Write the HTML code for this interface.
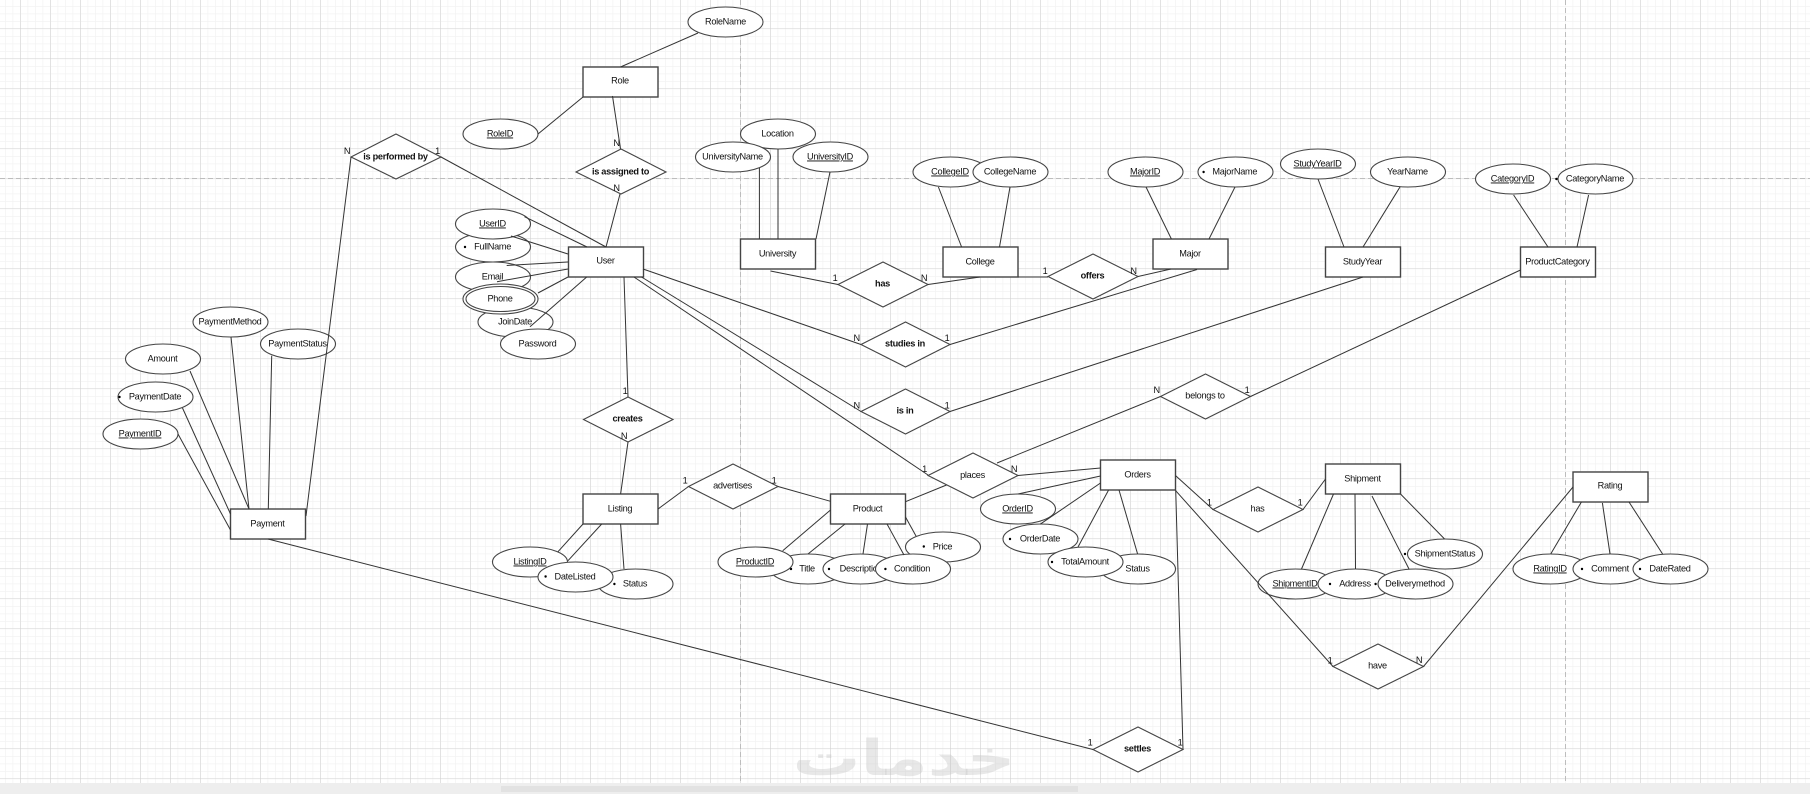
<!DOCTYPE html>
<html><head><meta charset="utf-8"><style>
html,body{margin:0;padding:0;background:#fff;width:1810px;height:794px;overflow:hidden}
svg{display:block}
text{font-family:"Liberation Sans",sans-serif;font-size:9.2px;letter-spacing:-.3px;fill:#111;text-anchor:middle}
.b{font-weight:bold}
.u{text-decoration:underline}
.e{fill:#fff;stroke:#444;stroke-width:1.1}
.r{fill:#fff;stroke:#444;stroke-width:1.4}
.d{fill:#fff;stroke:#444;stroke-width:1.1}
.l line{stroke:#333;stroke-width:1}
</style></head><body>
<svg width="1810" height="794" viewBox="0 0 1810 794" xmlns="http://www.w3.org/2000/svg">
<defs>
<pattern id="minor" x="20" y="13.5" width="7.5" height="7.5" patternUnits="userSpaceOnUse"><path d="M0 0V7.5M0 0H7.5" stroke="#f3f3f3" stroke-width="1.5" fill="none"/></pattern>
<pattern id="major" x="20.5" y="28.5" width="30" height="30" patternUnits="userSpaceOnUse"><path d="M0 0V30M0 0H30" stroke="#d2d2d2" stroke-width="1" fill="none"/></pattern>
</defs>
<rect width="1810" height="794" fill="#fff"/>
<rect width="1810" height="794" fill="url(#minor)"/>
<rect width="1810" height="794" fill="url(#major)"/>
<g stroke="#bdbdbd" stroke-width="1" stroke-dasharray="5 3" fill="none">
<line x1="0" y1="178.5" x2="1810" y2="178.5"/>
<line x1="740.5" y1="0" x2="740.5" y2="783"/>
<line x1="1565.5" y1="0" x2="1565.5" y2="783"/>
</g>
<text transform="translate(904,775) scale(1.09,.8)" x="0" y="0" style="font-family:'DejaVu Sans',sans-serif;font-size:62px;font-weight:bold;letter-spacing:0;fill:rgba(190,190,190,.35)">خدمات</text>

<!-- boxes -->
<g class="r">
<rect class="r" x="583" y="67" width="75" height="30"/>
<rect class="r" x="568.5" y="247" width="75" height="30"/>
<rect class="r" x="230.5" y="509" width="75" height="30"/>
<rect class="r" x="583" y="494" width="75" height="30"/>
<rect class="r" x="830.5" y="494" width="75" height="30"/>
<rect class="r" x="1100.5" y="460" width="75" height="30"/>
<rect class="r" x="1325.5" y="464" width="75" height="30"/>
<rect class="r" x="1573" y="472" width="75" height="30"/>
<rect class="r" x="740.5" y="239" width="75" height="30"/>
<rect class="r" x="943" y="247" width="75" height="30"/>
<rect class="r" x="1153" y="239" width="75" height="30"/>
<rect class="r" x="1325.5" y="247" width="75" height="30"/>
<rect class="r" x="1520.5" y="247" width="75" height="30"/>
</g>
<!-- diamonds -->
<polygon class="d" points="351,157 396,134 441,157 396,179"/>
<polygon class="d" points="576,172 621,149 666,172 621,194"/>
<polygon class="d" points="583.5,419.5 628,397 673,419.5 628,442"/>
<polygon class="d" points="688.5,486.5 733,464 778,486.5 733,509"/>
<polygon class="d" points="928,475.5 973,453 1018,475.5 973,498"/>
<polygon class="d" points="1093,749.5 1138,727 1183,749.5 1138,772"/>
<polygon class="d" points="1213,509.5 1258,487 1303,509.5 1258,532"/>
<polygon class="d" points="1333,666.5 1378,644 1423.5,666.5 1378,689"/>
<polygon class="d" points="838,284.5 883,262 928,284.5 883,307"/>
<polygon class="d" points="1048,276.5 1093,254 1138,276.5 1093,299"/>
<polygon class="d" points="861,344.5 905.5,322 950,344.5 905.5,367"/>
<polygon class="d" points="861,411.5 905.5,389 950,411.5 905.5,434"/>
<polygon class="d" points="1160.5,396.5 1205.5,374 1250.5,396.5 1205.5,419"/>

<!-- ellipses with text -->
<ellipse class="e" cx="725.5" cy="22" rx="37.5" ry="15"/><text x="725.5" y="24.5">RoleName</text>
<ellipse class="e" cx="500.5" cy="134" rx="37.5" ry="15"/><text class="u" x="500" y="136.5">RoleID</text>

<ellipse class="e" cx="493" cy="247" rx="37.5" ry="15"/><circle cx="465" cy="247" r="1.2"/><text x="492.6" y="249.5">FullName</text>
<ellipse class="e" cx="493" cy="224" rx="37.5" ry="15"/><text class="u" x="492.5" y="226.5">UserID</text>
<ellipse class="e" cx="493" cy="277" rx="37.5" ry="15"/><text x="492.5" y="279.5">Email</text>
<ellipse class="e" cx="515.5" cy="322" rx="37.5" ry="15"/><text x="515" y="324.5">JoinDate</text>
<ellipse class="e" cx="500.5" cy="299" rx="37.5" ry="15"/><ellipse class="e" cx="500.5" cy="299" rx="34.5" ry="12.5"/><text x="500" y="301.5">Phone</text>
<ellipse class="e" cx="538" cy="344" rx="37.5" ry="15"/><text x="537.5" y="346.5">Password</text>

<ellipse class="e" cx="230.5" cy="322" rx="37.5" ry="15"/><text x="230" y="324.5">PaymentMethod</text>
<ellipse class="e" cx="298" cy="344" rx="37.5" ry="15"/><text x="297.5" y="346.5">PaymentStatus</text>
<ellipse class="e" cx="163" cy="359" rx="37.5" ry="15"/><text x="162.5" y="361.5">Amount</text>
<ellipse class="e" cx="155.5" cy="397" rx="37.5" ry="15"/><circle cx="119.5" cy="397" r="1.2"/><text x="155" y="399.5">PaymentDate</text>
<ellipse class="e" cx="140.5" cy="434" rx="37.5" ry="15"/><text class="u" x="140" y="436.5">PaymentID</text>

<ellipse class="e" cx="635.5" cy="584" rx="37.5" ry="15"/><circle cx="614.4" cy="584" r="1.2"/><text x="635" y="586.5">Status</text>
<ellipse class="e" cx="530" cy="562" rx="37.5" ry="15"/><text class="u" x="530" y="564.5">ListingID</text>
<ellipse class="e" cx="575.5" cy="577" rx="37.5" ry="15"/><circle cx="545.6" cy="576.5" r="1.2"/><text x="575" y="579.5">DateListed</text>

<ellipse class="e" cx="808" cy="569" rx="37.5" ry="15"/><circle cx="791" cy="569" r="1.2"/><text x="807" y="571.5">Title</text>
<ellipse class="e" cx="755.5" cy="562" rx="37.5" ry="15"/><text class="u" x="755" y="564.5">ProductID</text>
<ellipse class="e" cx="943" cy="547" rx="37.5" ry="15"/><circle cx="923.8" cy="546.5" r="1.2"/><text x="942.5" y="549.5">Price</text>
<ellipse class="e" cx="860.5" cy="569" rx="37.5" ry="15"/><circle cx="829" cy="569" r="1.2"/><text x="861" y="571.5">Description</text>
<ellipse class="e" cx="913" cy="569" rx="37.5" ry="15"/><circle cx="885.4" cy="569" r="1.2"/><text x="912" y="571.5">Condition</text>

<ellipse class="e" cx="1018" cy="509" rx="37.5" ry="15"/><text class="u" x="1017.5" y="511.5">OrderID</text>
<ellipse class="e" cx="1040.5" cy="539" rx="37.5" ry="15"/><circle cx="1010" cy="539" r="1.2"/><text x="1040" y="541.5">OrderDate</text>
<ellipse class="e" cx="1138" cy="569" rx="37.5" ry="15"/><text x="1137.5" y="571.5">Status</text>
<ellipse class="e" cx="1085.5" cy="562" rx="37.5" ry="15"/><circle cx="1052" cy="562" r="1.2"/><text x="1085" y="564.5">TotalAmount</text>

<ellipse class="e" cx="1445" cy="554" rx="37.5" ry="15"/><circle cx="1405" cy="554" r="1.2"/><text x="1445" y="556.5">ShipmentStatus</text>
<ellipse class="e" cx="1295.5" cy="584" rx="37.5" ry="15"/><text class="u" x="1295" y="586.5">ShipmentID</text>
<ellipse class="e" cx="1355.5" cy="584" rx="37.5" ry="15"/><circle cx="1330" cy="584" r="1.2"/><text x="1355" y="586.5">Address</text>
<ellipse class="e" cx="1415.5" cy="584" rx="37.5" ry="15"/><circle cx="1375.6" cy="584" r="1.2"/><text x="1415" y="586.5">Deliverymethod</text>

<ellipse class="e" cx="1550.5" cy="569" rx="37.5" ry="15"/><text class="u" x="1550" y="571.5">RatingID</text>
<ellipse class="e" cx="1610.5" cy="569" rx="37.5" ry="15"/><circle cx="1582" cy="569" r="1.2"/><text x="1610" y="571.5">Comment</text>
<ellipse class="e" cx="1670.5" cy="569" rx="37.5" ry="15"/><circle cx="1640" cy="569" r="1.2"/><text x="1670" y="571.5">DateRated</text>

<ellipse class="e" cx="778" cy="134" rx="37.5" ry="15"/><text x="777.5" y="136.5">Location</text>
<ellipse class="e" cx="733" cy="157" rx="37.5" ry="15"/><text x="732.5" y="159.5">UniversityName</text>
<ellipse class="e" cx="830.5" cy="157" rx="37.5" ry="15"/><text class="u" x="830" y="159.5">UniversityID</text>
<ellipse class="e" cx="950.5" cy="172" rx="37.5" ry="15"/><text class="u" x="950" y="174.5">CollegeID</text>
<ellipse class="e" cx="1010.5" cy="172" rx="37.5" ry="15"/><text x="1010" y="174.5">CollegeName</text>
<ellipse class="e" cx="1145.5" cy="172" rx="37.5" ry="15"/><text class="u" x="1145" y="174.5">MajorID</text>
<ellipse class="e" cx="1235.5" cy="172" rx="37.5" ry="15"/><circle cx="1203.6" cy="172" r="1.2"/><text x="1234.8" y="174.5">MajorName</text>
<ellipse class="e" cx="1318" cy="164" rx="37.5" ry="15"/><text class="u" x="1317.5" y="166.5">StudyYearID</text>
<ellipse class="e" cx="1408" cy="172" rx="37.5" ry="15"/><text x="1407.5" y="174.5">YearName</text>
<ellipse class="e" cx="1513" cy="179" rx="37.5" ry="15"/><text class="u" x="1512.5" y="181.5">CategoryID</text>
<ellipse class="e" cx="1595.5" cy="179" rx="37.5" ry="15"/><circle cx="1556.4" cy="179" r="1.2"/><text x="1595" y="181.5">CategoryName</text>

<!-- connectors -->
<g class="l">
<line x1="620.5" y1="67" x2="698" y2="33"/>
<line x1="538" y1="134" x2="583" y2="97"/>
<line x1="612.5" y1="96" x2="620.5" y2="149"/>
<line x1="620" y1="194" x2="606" y2="247"/>
<line x1="441" y1="157" x2="606" y2="247"/>
<line x1="351" y1="157" x2="306" y2="516"/>
<line x1="524.5" y1="216.7" x2="587" y2="247"/>
<line x1="511" y1="236" x2="568" y2="254"/>
<line x1="506.7" y1="265.5" x2="568" y2="262"/>
<line x1="497" y1="281.7" x2="568" y2="269"/>
<line x1="538" y1="293" x2="568" y2="277"/>
<line x1="530" y1="326.7" x2="586.7" y2="277"/>
<line x1="624" y1="277" x2="628" y2="397"/>
<line x1="628" y1="442" x2="620.6" y2="494"/>
<line x1="583" y1="524" x2="558" y2="551.7"/>
<line x1="601.7" y1="524" x2="568" y2="560.7"/>
<line x1="620.6" y1="524" x2="624" y2="569"/>
<line x1="658" y1="509" x2="688.5" y2="486.5"/>
<line x1="778" y1="486.5" x2="830.5" y2="501.3"/>
<line x1="905.5" y1="501.7" x2="946.5" y2="485"/>
<line x1="830.5" y1="510" x2="782.7" y2="550.7"/>
<line x1="845" y1="524" x2="808" y2="554"/>
<line x1="867.5" y1="524" x2="863" y2="554"/>
<line x1="887" y1="524" x2="904" y2="555"/>
<line x1="905.5" y1="517" x2="916" y2="536"/>
<line x1="643" y1="269" x2="861" y2="344.5"/>
<line x1="641.5" y1="277" x2="861" y2="411.5"/>
<line x1="634" y1="277" x2="928" y2="475"/>
<line x1="950" y1="411.5" x2="1363" y2="277"/>
<line x1="950" y1="344.5" x2="1197" y2="269.5"/>
<line x1="1250.5" y1="396.5" x2="1520.5" y2="270"/>
<line x1="997" y1="463" x2="1160.5" y2="396.5"/>
<line x1="1018" y1="475.5" x2="1100.5" y2="468"/>
<line x1="1100.5" y1="476" x2="1018" y2="494"/>
<line x1="1100.5" y1="483" x2="1040" y2="524.3"/>
<line x1="1108.6" y1="490" x2="1078" y2="547"/>
<line x1="1119" y1="490" x2="1137.6" y2="554"/>
<line x1="1175.7" y1="475.7" x2="1213" y2="509.5"/>
<line x1="1303" y1="509.5" x2="1325.5" y2="479"/>
<line x1="1175.7" y1="490.7" x2="1333" y2="666.5"/>
<line x1="1423.5" y1="666.5" x2="1573" y2="487"/>
<line x1="1175.7" y1="490" x2="1183" y2="749.3"/>
<line x1="268" y1="539" x2="1093" y2="749.5"/>
<line x1="1333.5" y1="494" x2="1301.5" y2="569"/>
<line x1="1355" y1="494" x2="1355.5" y2="569"/>
<line x1="1372" y1="496" x2="1409" y2="569"/>
<line x1="1400.5" y1="494" x2="1444.6" y2="539"/>
<line x1="1581.4" y1="502" x2="1550.7" y2="554"/>
<line x1="1602.4" y1="503" x2="1610" y2="554"/>
<line x1="1629" y1="502" x2="1662.6" y2="554"/>
<line x1="178" y1="434" x2="230.5" y2="530"/>
<line x1="182.5" y1="408" x2="230.5" y2="514"/>
<line x1="190" y1="371" x2="249" y2="509"/>
<line x1="231" y1="337" x2="249" y2="509"/>
<line x1="271.7" y1="355.7" x2="268.3" y2="509"/>
<line x1="759.4" y1="168" x2="759.4" y2="239"/>
<line x1="778" y1="149" x2="778" y2="239"/>
<line x1="830" y1="172" x2="816" y2="239"/>
<line x1="770.5" y1="271" x2="838" y2="284.5"/>
<line x1="928" y1="284.5" x2="980" y2="277"/>
<line x1="1018" y1="277" x2="1048" y2="277"/>
<line x1="1138" y1="276.5" x2="1171" y2="269"/>
<line x1="938.4" y1="187" x2="961.6" y2="247"/>
<line x1="1010" y1="187" x2="999.5" y2="247"/>
<line x1="1146" y1="187" x2="1171.4" y2="239"/>
<line x1="1235" y1="187" x2="1209" y2="239"/>
<line x1="1318" y1="179" x2="1344" y2="247"/>
<line x1="1400" y1="187" x2="1363" y2="247"/>
<line x1="1513.6" y1="195" x2="1548" y2="247"/>
<line x1="1588.6" y1="195" x2="1577" y2="247"/>
</g>

<!-- box labels -->
<text x="620" y="83.5">Role</text>
<text x="605.5" y="263.5">User</text>
<text x="267.5" y="526.5">Payment</text>
<text x="620" y="511.5">Listing</text>
<text x="867.5" y="511.5">Product</text>
<text x="1137.5" y="477.5">Orders</text>
<text x="1362.5" y="481.5">Shipment</text>
<text x="1610" y="488.5">Rating</text>
<text x="777.5" y="256.5">University</text>
<text x="980" y="264.5">College</text>
<text x="1190" y="256.5">Major</text>
<text x="1362.5" y="264.5">StudyYear</text>
<text x="1557.5" y="264.5">ProductCategory</text>
<!-- relation labels -->
<text class="b" x="395.5" y="159.5">is performed by</text>
<text class="b" x="620.5" y="174.5">is assigned to</text>
<text class="b" x="627.5" y="421.5">creates</text>
<text x="732.5" y="488.5">advertises</text>
<text x="972.5" y="478">places</text>
<text class="b" x="1137.5" y="751.5">settles</text>
<text x="1257.5" y="511.5">has</text>
<text x="1377.5" y="668.5">have</text>
<text class="b" x="882.5" y="286.5">has</text>
<text class="b" x="1092.5" y="278.5">offers</text>
<text class="b" x="905" y="346.5">studies in</text>
<text class="b" x="905" y="413.5">is in</text>
<text x="1205" y="398.5">belongs to</text>
<!-- cardinalities -->
<text x="347" y="154">N</text><text x="437.5" y="154">1</text>
<text x="616.5" y="146">N</text><text x="616.5" y="191">N</text>
<text x="625" y="394">1</text><text x="624" y="439">N</text>
<text x="835" y="281">1</text><text x="924" y="281">N</text>
<text x="1045" y="274">1</text><text x="1133.5" y="274">N</text>
<text x="856.7" y="341">N</text><text x="947" y="341">1</text>
<text x="856.7" y="408.7">N</text><text x="947" y="408.7">1</text>
<text x="1156.7" y="393">N</text><text x="1247" y="393">1</text>
<text x="924.5" y="472">1</text><text x="1014" y="472">N</text>
<text x="685" y="483.7">1</text><text x="774" y="483.7">1</text>
<text x="1209.3" y="505.7">1</text><text x="1300" y="505.7">1</text>
<text x="1330" y="663.7">1</text><text x="1419" y="663">N</text>
<text x="1090" y="745.7">1</text><text x="1180" y="745.7">1</text>

<!-- scrollbar -->
<rect x="0" y="783" width="1810" height="11" fill="#eeeeee"/>
<rect x="501" y="786" width="577" height="6" fill="#e2e2e2"/>
</svg>
</body></html>
